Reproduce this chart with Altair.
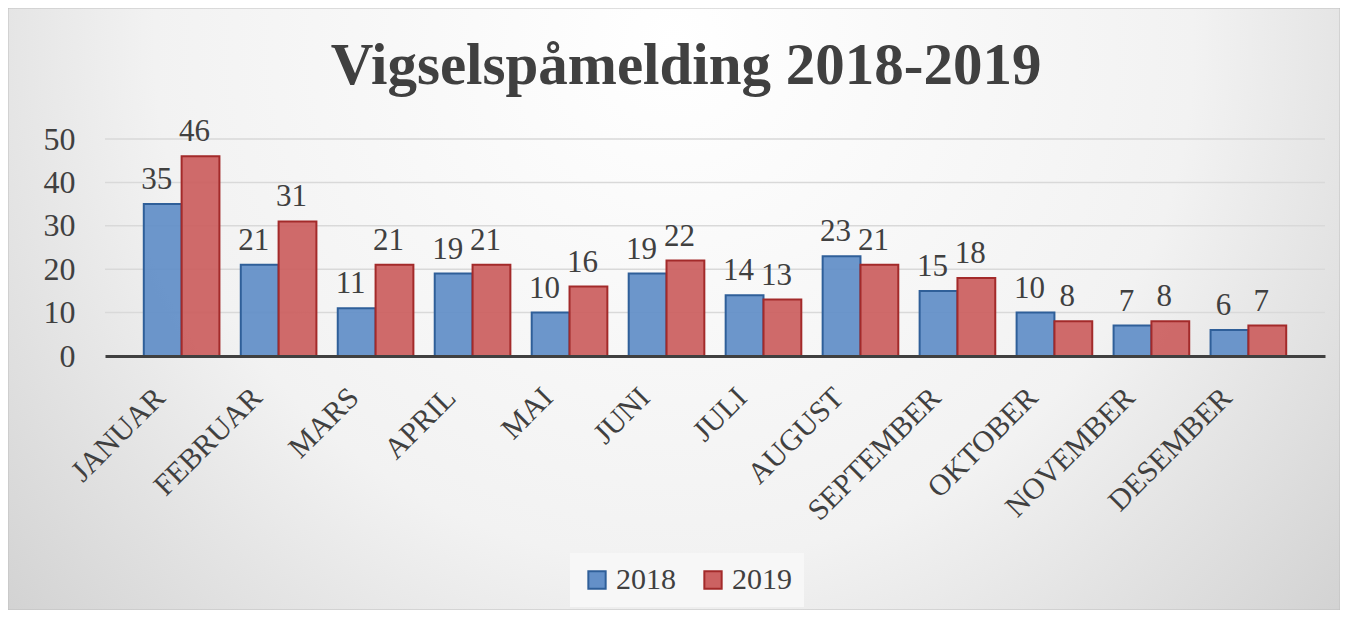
import altair as alt
import pandas as pd

months = ["JANUAR", "FEBRUAR", "MARS", "APRIL", "MAI", "JUNI", "JULI",
          "AUGUST", "SEPTEMBER", "OKTOBER", "NOVEMBER", "DESEMBER"]
years = ["2018", "2019"]
v2018 = [35, 21, 11, 19, 10, 19, 14, 23, 15, 10, 7, 6]
v2019 = [46, 31, 21, 21, 16, 22, 13, 21, 18, 8, 8, 7]
yticks = [0, 10, 20, 30, 40, 50]

rows = []
for i, m in enumerate(months):
    rows.append({"month": m, "year": years[0], "value": v2018[i]})
    rows.append({"month": m, "year": years[1], "value": v2019[i]})
df = pd.DataFrame(rows)

W, H = 1220, 217
PL, PT, PR, PB = 97, 131, 15, 254

FONT = "Times New Roman"
TXT = "#404040"

bg_grad = {
    "gradient": "radial",
    "x1": 0.5, "y1": 0.3, "r1": 0.0,
    "x2": 0.5, "y2": 0.3, "r2": 0.78,
    "stops": [
        {"offset": 0, "color": "#ffffff"},
        {"offset": 0.5, "color": "#f2f2f2"},
        {"offset": 1, "color": "#c4c4c4"},
    ],
}

bg = alt.Chart(pd.DataFrame({"a": [0]})).mark_rect(
    fill=bg_grad, stroke="#bfbfbf", strokeWidth=1
).encode(
    x=alt.value(-PL), x2=alt.value(W + PR),
    y=alt.value(-PT), y2=alt.value(H + PB),
)

yscale = alt.Scale(domain=[0, 50])

grid = alt.Chart(pd.DataFrame({"t": yticks[1:]})).mark_rule(
    color="#d9d9d9", strokeWidth=1.5
).encode(y=alt.Y("t:Q", scale=yscale))

xscale = alt.Scale(domain=months, paddingInner=0.22, paddingOuter=0.4)

base = alt.Chart(df).encode(
    x=alt.X("month:N", sort=months, scale=xscale, title=None,
            axis=alt.Axis(labelAngle=-45, labelFontSize=30, labelFont=FONT,
                          labelColor=TXT, ticks=False, domainColor="#404040",
                          domainWidth=3, labelPadding=26, labelOffset=-32,
                          grid=False, zindex=1)),
    xOffset=alt.XOffset("year:N", sort=years),
    y=alt.Y("value:Q", scale=yscale, title=None,
            axis=alt.Axis(values=yticks, labelFontSize=32,
                          labelFont=FONT, labelColor=TXT, ticks=False,
                          domain=False, labelPadding=30, grid=False,
                          zindex=1)),
)

bars = base.mark_bar(strokeWidth=2, fillOpacity=0.95).encode(
    fill=alt.Fill("year:N", sort=years,
                  scale=alt.Scale(domain=years, range=["#6490C8", "#CC6262"]),
                  legend=alt.Legend(title=None, orient="none", legendX=465,
                                    legendY=414, direction="horizontal",
                                    symbolType="square", symbolSize=300,
                                    symbolStrokeWidth=2, labelFontSize=30,
                                    labelFont=FONT, labelColor=TXT,
                                    columnPadding=22, labelOffset=4,
                                    padding=12, fillColor="#f7f7f7")),
    stroke=alt.Stroke("year:N", sort=years,
                      scale=alt.Scale(domain=years, range=["#2F5F99", "#A32A2A"]),
                      legend=None),
)

labels = base.mark_text(baseline="bottom", dy=-8, dx=-6, fontSize=31,
                        font=FONT, color=TXT).encode(text="value:Q")

chart = alt.layer(bg, grid, bars, labels).properties(
    width=W, height=H,
    autosize=alt.AutoSizeParams(type="none"),
    padding={"left": PL, "top": PT, "right": PR, "bottom": PB},
    title=alt.Title("Vigselspåmelding 2018-2019", fontSize=59, font=FONT,
                    fontWeight="bold", color=TXT, anchor="middle",
                    baseline="alphabetic", offset=0, dy=135, dx=-29),
).configure_view(stroke=None).configure(background="#ffffff")

chart.save("out.html", embed_options={"renderer": "svg", "actions": False})
